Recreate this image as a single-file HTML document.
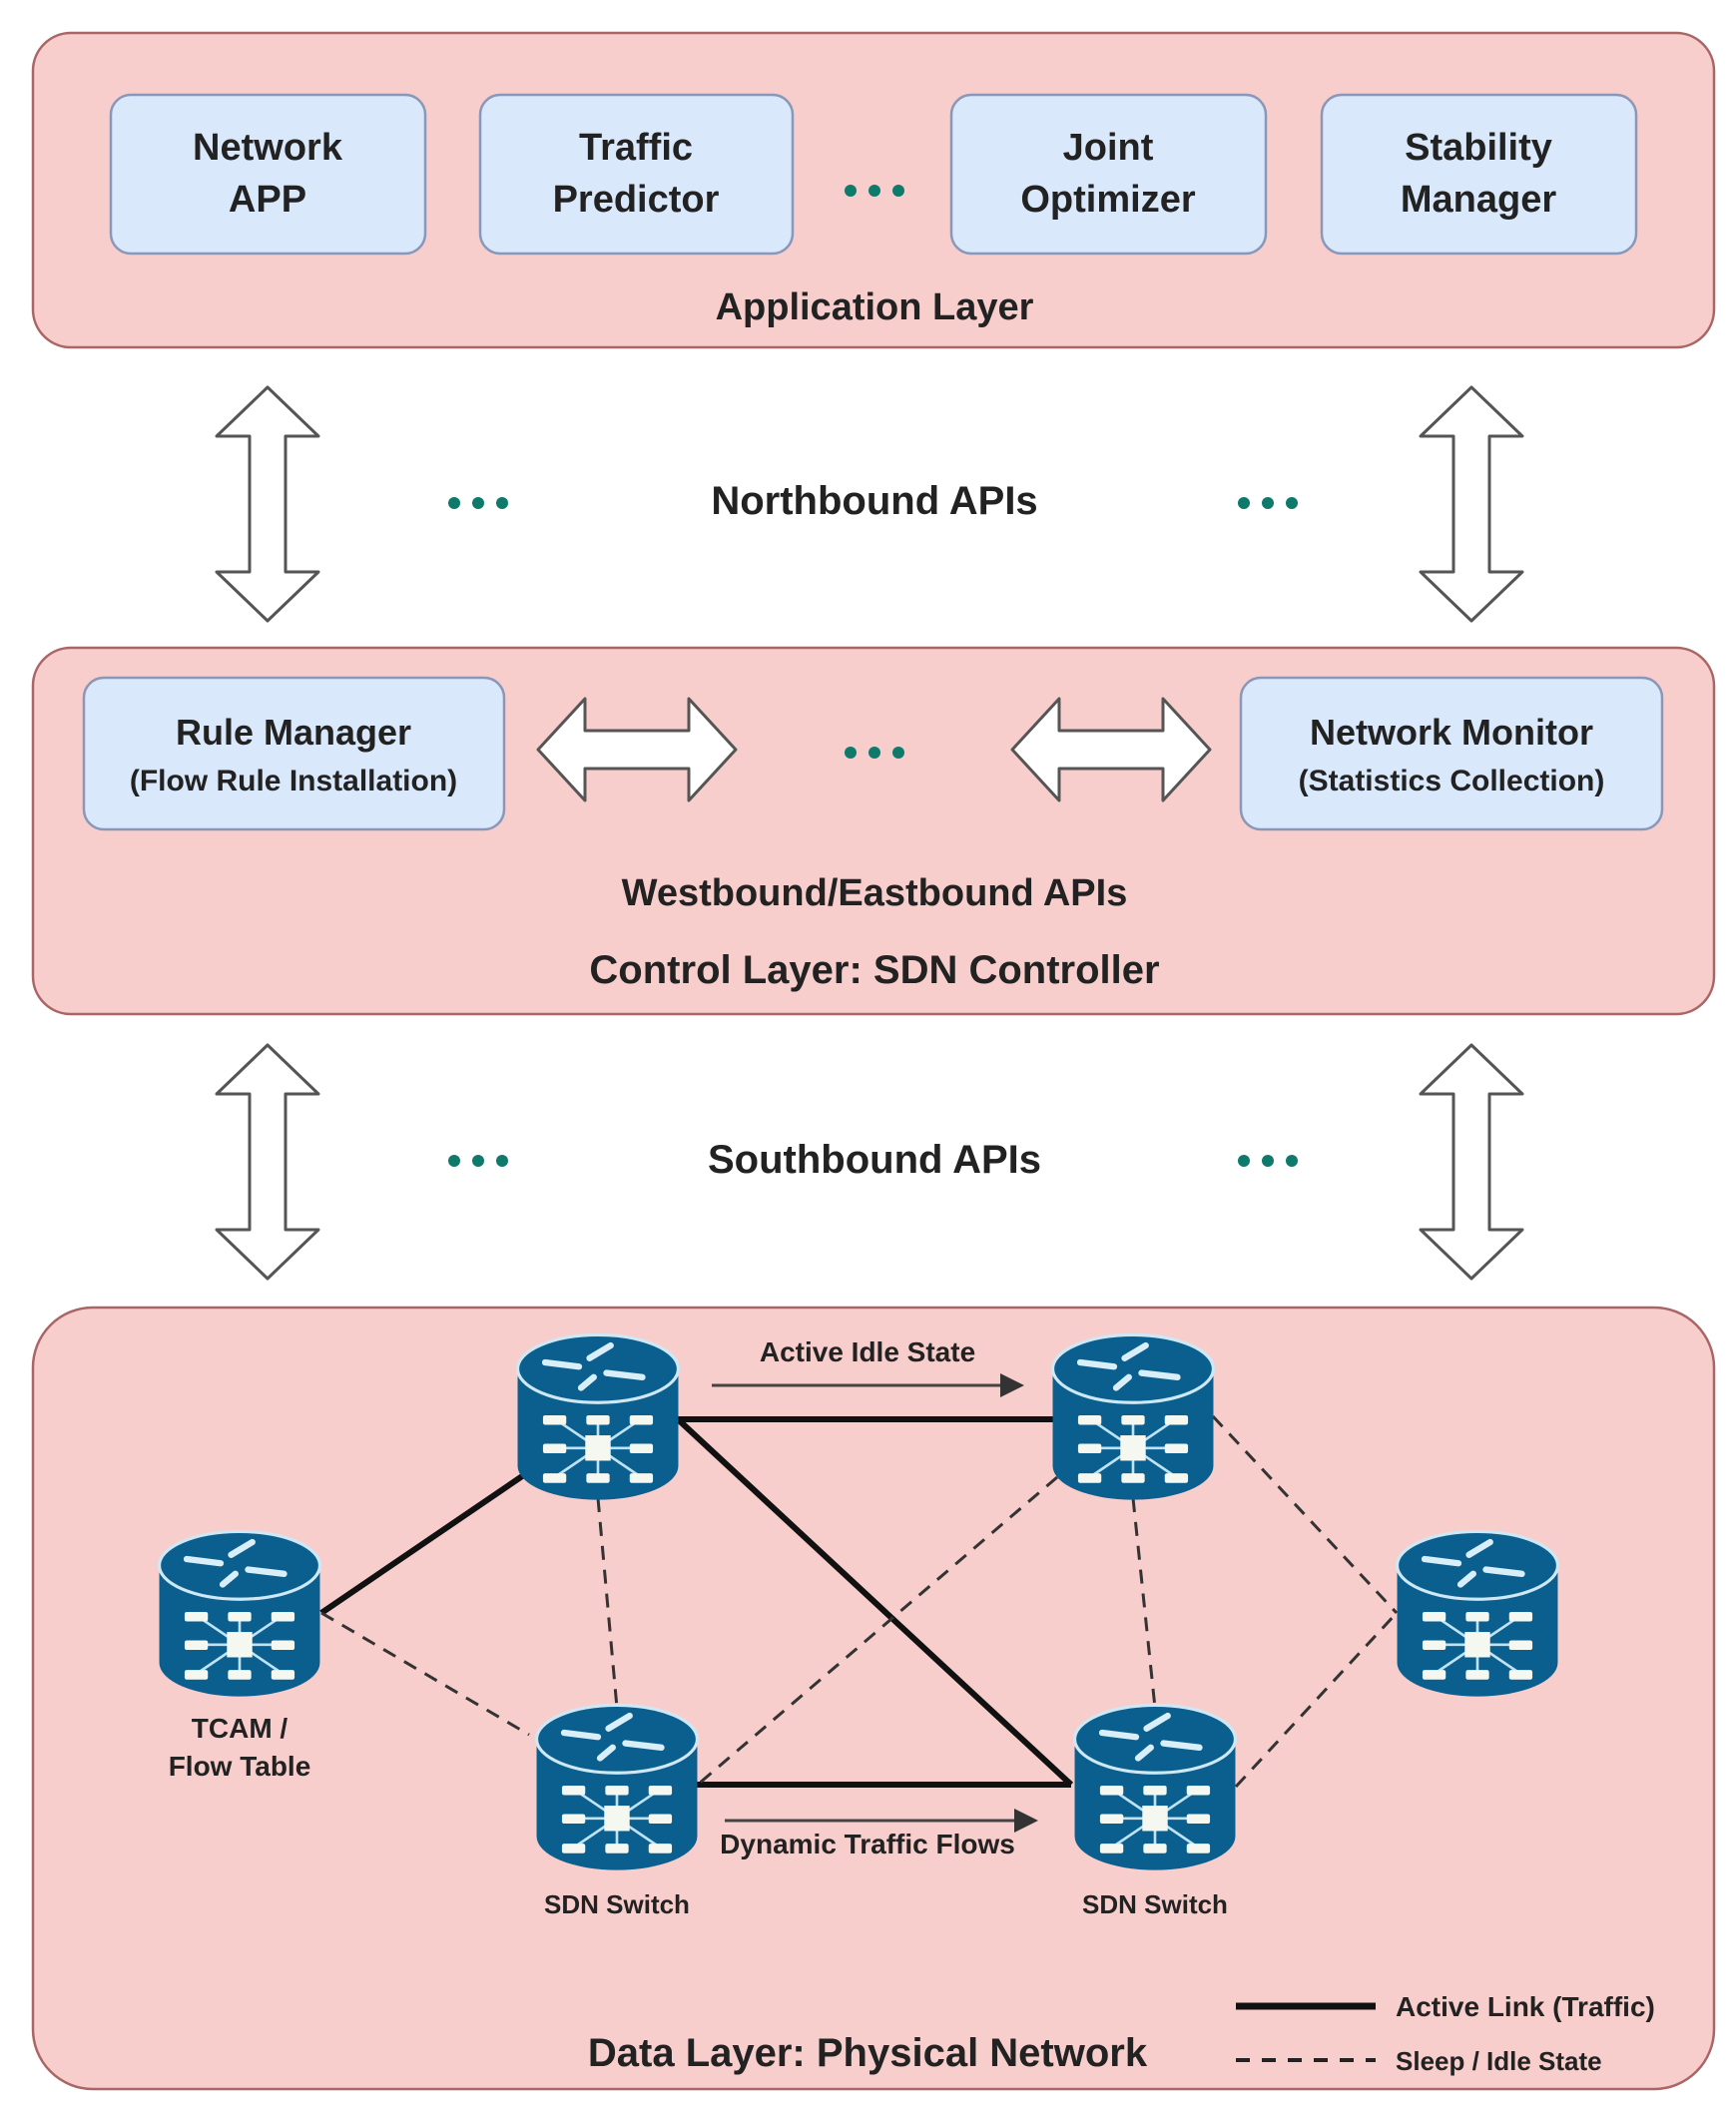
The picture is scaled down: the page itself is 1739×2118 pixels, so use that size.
<!DOCTYPE html>
<html><head><meta charset="utf-8"><style>
html,body{margin:0;padding:0;background:#fff}
svg{display:block}
text{font-family:"Liberation Sans",Arial,sans-serif;font-weight:bold;fill:#222}
</style></head><body>
<svg width="1739" height="2118" viewBox="0 0 1739 2118" xmlns="http://www.w3.org/2000/svg">
<defs>
<symbol id="rt" viewBox="0 0 160 170">
  <path d="M4 40 L4 132 A76 32 0 0 0 156 132 L156 40 Z" fill="#0b5f8f"/>
  <ellipse cx="80" cy="40" rx="76" ry="32" fill="#0b5f8f" stroke="#cfe8f5" stroke-width="3"/>
  <g stroke="#d8eef8" stroke-width="6" stroke-linecap="round">
    <line x1="30" y1="34" x2="62" y2="38"/><line x1="72" y1="30" x2="92" y2="18"/>
    <line x1="88" y1="44" x2="122" y2="48"/><line x1="64" y1="58" x2="76" y2="48"/>
  </g>
  <g stroke="#bfe3f5" stroke-width="2.5">
    <line x1="80" y1="115" x2="40" y2="88"/><line x1="80" y1="115" x2="120" y2="88"/>
    <line x1="80" y1="115" x2="40" y2="142"/><line x1="80" y1="115" x2="120" y2="142"/>
    <line x1="40" y1="115" x2="120" y2="115"/><line x1="80" y1="88" x2="80" y2="142"/>
  </g>
  <g fill="#f4f8f0">
    <rect x="28" y="84" width="22" height="9" rx="2"/><rect x="69" y="84" width="22" height="9" rx="2"/><rect x="110" y="84" width="22" height="9" rx="2"/>
    <rect x="28" y="111" width="22" height="9" rx="2"/><rect x="110" y="111" width="22" height="9" rx="2"/>
    <rect x="28" y="139" width="22" height="9" rx="2"/><rect x="69" y="139" width="22" height="9" rx="2"/><rect x="110" y="139" width="22" height="9" rx="2"/>
    <rect x="68" y="103" width="24" height="24"/>
  </g>
</symbol>
<symbol id="va" viewBox="0 0 110 240">
  <path d="M55 3 L106 52 L73 52 L73 188 L106 188 L55 237 L4 188 L37 188 L37 52 L4 52 Z" fill="#fff" stroke="#555" stroke-width="3" stroke-linejoin="round"/>
</symbol>
<symbol id="ha" viewBox="0 0 204 110">
  <path d="M3 55 L50 4 L50 36 L154 36 L154 4 L201 55 L154 106 L154 74 L50 74 L50 106 Z" fill="#fff" stroke="#555" stroke-width="3" stroke-linejoin="round"/>
</symbol>
<marker id="ah" markerWidth="8" markerHeight="8" refX="6" refY="4" orient="auto"><path d="M0 0 L8 4 L0 8 Z" fill="#333"/></marker>
</defs>

<rect x="33" y="33" width="1684" height="315" rx="38" fill="#f8cecc" stroke="#a66" stroke-width="2.5"/>
<g fill="#dae8fc" stroke="#8a97b8" stroke-width="2.5">
<rect x="111" y="95" width="315" height="159" rx="20"/>
<rect x="481" y="95" width="313" height="159" rx="20"/>
<rect x="953" y="95" width="315" height="159" rx="20"/>
<rect x="1324" y="95" width="315" height="159" rx="20"/>
</g>
<g font-size="38" text-anchor="middle">
<text x="268" y="160">Network</text><text x="268" y="212">APP</text>
<text x="637" y="160">Traffic</text><text x="637" y="212">Predictor</text>
<text x="1110" y="160">Joint</text><text x="1110" y="212">Optimizer</text>
<text x="1481" y="160">Stability</text><text x="1481" y="212">Manager</text>
<text x="876" y="320">Application Layer</text>
</g>
<g fill="#0e7a6c">
<circle cx="852" cy="191" r="6"/><circle cx="876" cy="191" r="6"/><circle cx="900" cy="191" r="6"/>
</g>

<use href="#va" x="213" y="385" width="110" height="240"/>
<use href="#va" x="1419" y="385" width="110" height="240"/>
<text x="876" y="515" font-size="40" text-anchor="middle">Northbound APIs</text>
<g fill="#0e7a6c">
<circle cx="455" cy="504" r="6"/><circle cx="479" cy="504" r="6"/><circle cx="503" cy="504" r="6"/>
<circle cx="1246" cy="504" r="6"/><circle cx="1270" cy="504" r="6"/><circle cx="1294" cy="504" r="6"/>
</g>

<rect x="33" y="649" width="1684" height="367" rx="38" fill="#f8cecc" stroke="#a66" stroke-width="2.5"/>
<g fill="#dae8fc" stroke="#8a97b8" stroke-width="2.5">
<rect x="84" y="679" width="421" height="152" rx="20"/>
<rect x="1243" y="679" width="422" height="152" rx="20"/>
</g>
<g text-anchor="middle">
<text x="294" y="746" font-size="36">Rule Manager</text>
<text x="294" y="792" font-size="30">(Flow Rule Installation)</text>
<text x="1454" y="746" font-size="36">Network Monitor</text>
<text x="1454" y="792" font-size="30">(Statistics Collection)</text>
<text x="876" y="907" font-size="38">Westbound/Eastbound APIs</text>
<text x="876" y="985" font-size="40">Control Layer: SDN Controller</text>
</g>
<use href="#ha" x="536" y="696" width="204" height="110"/>
<use href="#ha" x="1011" y="696" width="204" height="110"/>
<g fill="#0e7a6c">
<circle cx="852" cy="754" r="6"/><circle cx="876" cy="754" r="6"/><circle cx="900" cy="754" r="6"/>
</g>

<use href="#va" x="213" y="1044" width="110" height="240"/>
<use href="#va" x="1419" y="1044" width="110" height="240"/>
<text x="876" y="1175" font-size="40" text-anchor="middle">Southbound APIs</text>
<g fill="#0e7a6c">
<circle cx="455" cy="1163" r="6"/><circle cx="479" cy="1163" r="6"/><circle cx="503" cy="1163" r="6"/>
<circle cx="1246" cy="1163" r="6"/><circle cx="1270" cy="1163" r="6"/><circle cx="1294" cy="1163" r="6"/>
</g>

<rect x="33" y="1310" width="1684" height="783" rx="60" fill="#f8cecc" stroke="#a66" stroke-width="2.5"/>
<g stroke="#111" stroke-width="6">
<line x1="679" y1="1422" x2="1059" y2="1422"/>
<line x1="679" y1="1422" x2="1073" y2="1788"/>
<line x1="322" y1="1616" x2="526" y2="1477"/>
<line x1="693" y1="1788" x2="1073" y2="1788"/>
</g>
<g stroke="#333" stroke-width="3" stroke-dasharray="14 10">
<line x1="599" y1="1501" x2="618" y2="1711"/>
<line x1="1059" y1="1480" x2="693" y2="1793"/>
<line x1="1135" y1="1501" x2="1157" y2="1711"/>
<line x1="1215" y1="1419" x2="1399" y2="1616"/>
<line x1="1238" y1="1790" x2="1399" y2="1616"/>
<line x1="322" y1="1616" x2="530" y2="1738"/>
</g>
<g stroke="#444" stroke-width="3" marker-end="url(#ah)">
<line x1="713" y1="1388" x2="1020" y2="1388"/>
<line x1="726" y1="1824" x2="1034" y2="1824"/>
</g>
<use href="#rt" x="514" y="1329" width="170" height="180"/>
<use href="#rt" x="1050" y="1329" width="170" height="180"/>
<use href="#rt" x="155" y="1526" width="170" height="180"/>
<use href="#rt" x="1395" y="1526" width="170" height="180"/>
<use href="#rt" x="533" y="1700" width="170" height="180"/>
<use href="#rt" x="1072" y="1700" width="170" height="180"/>
<g text-anchor="middle" fill="#222">
<text x="869" y="1364" font-size="28">Active Idle State</text>
<text x="869" y="1857" font-size="28">Dynamic Traffic Flows</text>
<text x="240" y="1741" font-size="28">TCAM /</text>
<text x="240" y="1779" font-size="28">Flow Table</text>
<text x="618" y="1917" font-size="26">SDN Switch</text>
<text x="1157" y="1917" font-size="26">SDN Switch</text>
<text x="869" y="2070" font-size="40">Data Layer: Physical Network</text>
</g>
<line x1="1238" y1="2010" x2="1378" y2="2010" stroke="#111" stroke-width="7"/>
<line x1="1238" y1="2064" x2="1378" y2="2064" stroke="#222" stroke-width="4" stroke-dasharray="14 12"/>
<text x="1398" y="2020" font-size="28">Active Link (Traffic)</text>
<text x="1398" y="2074" font-size="26">Sleep / Idle State</text>
</svg>
</body></html>
